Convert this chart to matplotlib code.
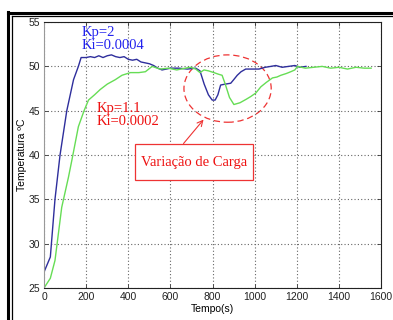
import matplotlib.pyplot as plt
from matplotlib.patches import Ellipse, Rectangle
from matplotlib.lines import Line2D
import numpy as np

# Kp=2, Ki=0.0004
t_kp2 = [0, 30, 52, 76, 108, 140, 163, 176, 200, 220, 240, 260, 280, 300, 320, 340,
         360, 380, 400, 420, 440, 460, 480, 500, 520, 540, 560, 580, 600, 640, 680,
         720, 740, 760, 780, 798, 812, 825, 838, 860, 886, 900, 917, 935, 957, 990,
         1020, 1050, 1076, 1100, 1130, 1160, 1190, 1215, 1243]
y_kp2 = [26.8, 28.5, 35.0, 40.0, 45.0, 48.5, 50.0, 51.0, 51.0, 51.1, 51.0, 51.2, 51.0,
         51.2, 51.3, 51.1, 51.0, 51.1, 50.8, 50.7, 50.8, 50.5, 50.4, 50.3, 50.1, 49.8,
         49.6, 49.7, 49.8, 49.8, 49.7, 49.8, 49.5, 48.0, 46.8, 46.2, 46.2, 46.8, 47.9,
         48.0, 48.1, 48.5, 49.0, 49.4, 49.7, 49.7, 49.7, 49.9, 50.0, 50.1, 49.9, 50.0,
         50.1, 49.9, 50.0]

# Kp=1.1, Ki=0.0002
t_kp1 = [0, 30, 52, 84, 116, 132, 163, 190, 211, 240, 267, 300, 338, 370, 410, 450,
         481, 513, 550, 590, 630, 670, 695, 720, 740, 759, 780, 806, 830, 845, 860,
         880, 901, 930, 960, 981, 1005, 1029, 1055, 1084, 1105, 1124, 1150, 1171, 1190,
         1203, 1240, 1280, 1320, 1360, 1400, 1440, 1480, 1520, 1552]
y_kp1 = [25.0, 26.1, 28.1, 34.1, 37.5, 39.4, 43.2, 45.0, 46.2, 46.8, 47.4, 48.0, 48.5,
         49.0, 49.3, 49.3, 49.4, 50.0, 49.7, 49.8, 49.6, 49.8, 49.9, 49.7, 49.3, 49.6,
         49.5, 49.3, 49.1, 49.0, 48.0, 46.5, 45.7, 45.9, 46.3, 46.6, 47.0, 47.7, 48.2,
         48.7, 48.8, 49.0, 49.2, 49.4, 49.6, 50.0, 49.8, 49.9, 50.0, 49.8, 49.9, 49.7,
         49.9, 49.8, 49.8]

x_ticks = [0, 200, 400, 600, 800, 1000, 1200, 1400, 1600]
y_ticks = [25, 30, 35, 40, 45, 50, 55]

fig = plt.figure(figsize=(3.93, 3.2), dpi=100)
ax = fig.add_axes([0.112, 0.1, 0.858, 0.831])

ax.plot(t_kp2, y_kp2, color='#2e2e9c', linewidth=1.0)
ax.plot(t_kp1, y_kp1, color='#66dd55', linewidth=1.0)

ax.set_xlim(0, 1600)
ax.set_ylim(25, 55)
ax.set_xticks(x_ticks)
ax.set_yticks(y_ticks)
ax.tick_params(direction='in', length=3, width=0.6, labelsize=7.5,
               top=True, right=True, pad=3, colors='#333333', labelcolor='#222222')
for lab in ax.get_xticklabels() + ax.get_yticklabels():
    lab.set_family('Liberation Sans')
ax.grid(True, linestyle=(0, (1, 2)), color='#666666', linewidth=0.8)
for side in ['top', 'right', 'bottom']:
    ax.spines[side].set_color('#222222')
    ax.spines[side].set_linewidth(0.8)
ax.spines['left'].set_color('#999999')
ax.spines['left'].set_linewidth(0.8)

ax.set_xlabel('Tempo(s)', fontsize=7.5, family='Liberation Sans', labelpad=1)
ax.set_ylabel('Temperatura ºC', fontsize=7.5, family='Liberation Sans', labelpad=1)

ax.text(180, 54.6, 'Kp=2\nKi=0.0004', color='#2222ee', fontsize=10.5,
        family='Liberation Serif', va='top', ha='left', linespacing=1.05)
ax.text(250, 46.0, 'Kp=1.1\nKi=0.0002', color='#ee1111', fontsize=10.5,
        family='Liberation Serif', va='top', ha='left', linespacing=1.05)

ax.add_patch(Ellipse((871, 47.5), 414, 7.6, fill=False, edgecolor='#ee3333',
                     linestyle=(0, (5, 3)), linewidth=0.9))
ax.add_patch(Rectangle((433, 37.2), 557, 4.1, facecolor='white', edgecolor='#ee3333',
                       linewidth=0.9, zorder=4))
ax.text(711, 39.2, 'Variação de Carga', color='#ee1111', fontsize=10.5,
        family='Liberation Serif', ha='center', va='center', zorder=5)
ax.annotate('', xy=(757, 44.0), xytext=(662, 41.3),
            arrowprops=dict(arrowstyle='->', color='#ee3333', linewidth=0.8,
                            shrinkA=0, shrinkB=0))

# moldura dupla
fig.add_artist(Line2D([8 / 393, 8 / 393], [0, 1 - 12 / 320], color='black', linewidth=2.2))
fig.add_artist(Line2D([11.5 / 393, 11.5 / 393], [0, 1 - 15.5 / 320], color='black', linewidth=0.9))
fig.add_artist(Line2D([8 / 393, 1], [1 - 12.5 / 320, 1 - 12.5 / 320], color='black', linewidth=2.2))
fig.add_artist(Line2D([11.5 / 393, 1], [1 - 15.5 / 320, 1 - 15.5 / 320], color='black', linewidth=0.9))

fig.savefig('out.png', dpi=100)
